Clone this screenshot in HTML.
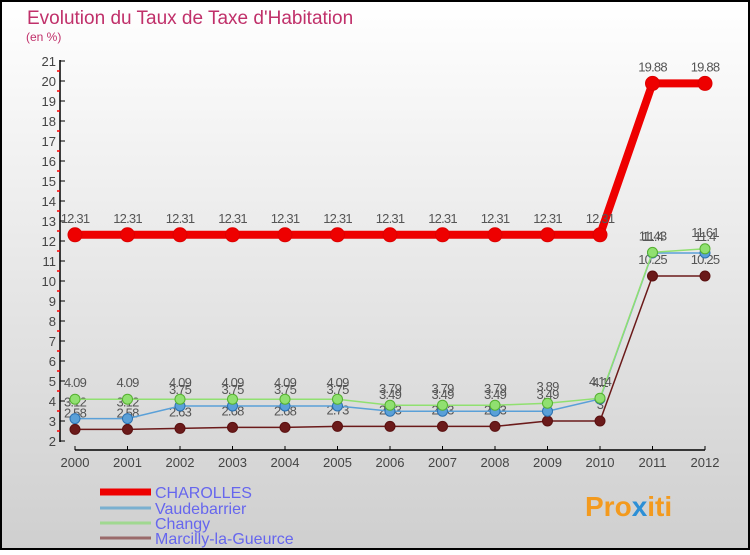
<!DOCTYPE html>
<html><head><meta charset="utf-8"><style>
body{margin:0;width:750px;height:550px;overflow:hidden;font-family:"Liberation Sans",sans-serif}
</style></head><body>
<svg id="c" width="750" height="550" xmlns="http://www.w3.org/2000/svg">
<defs><linearGradient id="bg" x1="0" y1="0" x2="0" y2="1"><stop offset="0" stop-color="#ffffff"/><stop offset="1" stop-color="#cfcfcf"/></linearGradient></defs>
<rect x="1" y="1" width="748" height="548" fill="url(#bg)" stroke="#000" stroke-width="2"/>
<text x="27" y="24" font-size="19" fill="#c0306a">Evolution du Taux de Taxe d'Habitation</text>
<text x="26" y="41" font-size="12" fill="#c0306a">(en %)</text>
<g id="axes"></g><g id="series"></g><g id="legend"></g>
<text x="585" y="516" font-size="28" font-weight="bold" fill="#f39a1e">Pro<tspan fill="#2c8fd6">x</tspan>iti</text>
</svg>
<script>
const years=["2000","2001","2002","2003","2004","2005","2006","2007","2008","2009","2010","2011","2012"];
const charolles=[12.31,12.31,12.31,12.31,12.31,12.31,12.31,12.31,12.31,12.31,12.31,19.88,19.88];
const vaudebarrier=[3.12,3.12,3.75,3.75,3.75,3.75,3.49,3.49,3.49,3.49,4.1,11.4,11.4];
const changy=[4.09,4.09,4.09,4.09,4.09,4.09,3.79,3.79,3.79,3.89,4.14,11.43,11.61];
const marcilly=[2.58,2.58,2.63,2.68,2.68,2.73,2.73,2.73,2.73,3,3,10.25,10.25];
const yTicks=[2,3,4,5,6,7,8,9,10,11,12,13,14,15,16,17,18,19,20,21];
const seriesNames=["CHAROLLES","Vaudebarrier","Changy","Marcilly-la-Gueurce"];
const NS="http://www.w3.org/2000/svg";
const X=i=>75+i*52.5, Y=v=>441-(v-2)*20;
function mk(t,a,p){const e=document.createElementNS(NS,t);for(const k in a)e.setAttribute(k,a[k]);p.appendChild(e);return e;}
const ax=document.getElementById('axes');
let l=mk('line',{x1:60,y1:60,x2:60,y2:442,stroke:'#000','stroke-width':1.5},ax);


l=mk('line',{x1:75,y1:450,x2:705,y2:450,stroke:'#000','stroke-width':1.5},ax);


yTicks.forEach(v=>{
 mk('line',{x1:60,y1:Y(v),x2:65,y2:Y(v),stroke:'#000'},ax);
 if(v<21)mk('line',{x1:57,y1:Y(v+0.5),x2:60,y2:Y(v+0.5),stroke:'#ff0000','stroke-width':1.5},ax);
 const t=mk('text',{x:56,y:Y(v)+5,'font-size':13,fill:'#444','text-anchor':'end'},ax);t.textContent=v;
 
 
});
years.forEach((y,i)=>{
 mk('line',{x1:X(i),y1:446,x2:X(i),y2:450,stroke:'#000'},ax);
 const t=mk('text',{x:X(i),y:467,'font-size':13,fill:'#444','text-anchor':'middle'},ax);t.textContent=y;
 
 
});
const sg=document.getElementById('series');
function draw(vals,color,w,r,name,dark){
 const g=mk('g',{},sg);
 
 
 mk('polyline',{points:vals.map((v,i)=>X(i)+','+Y(v)).join(' '),fill:'none',stroke:color,'stroke-width':w},g);
 vals.forEach((v,i)=>{
  const c=mk('circle',{cx:X(i),cy:Y(v),r:r,fill:color,stroke:dark,'stroke-width':1},g);
  
  
  const t=mk('text',{x:X(i),y:Y(v)-12,'font-size':13,fill:'#555','text-anchor':'middle','letter-spacing':'-0.8'},g);
  t.textContent=String(v);
  
  
 });
}
draw(marcilly,'#6b1a1a',1.5,5,'marcilly-series','#5a1010');
draw(vaudebarrier,'#5aa0d8',1.5,5,'vaudebarrier-series','#2a70b0');
draw(changy,'#90e070',1.5,5,'changy-series','#55b030');
draw(charolles,'#ee0000',8,7,'charolles-series','#dd0000');
const lg=document.getElementById('legend');
const lc=['#ee0000','#7ab0d0','#a0d890','#9a6a6a'],lw=[7,3,3,3],ly=[492,508,523,538];
seriesNames.forEach((n,i)=>{
 const g=mk('g',{},lg);
 
 
 mk('line',{x1:100,y1:ly[i],x2:151,y2:ly[i],stroke:lc[i],'stroke-width':lw[i]},g);
 const t=mk('text',{x:155,y:ly[i]+6,'font-size':16,fill:'#6666ee'},g);t.textContent=n;
});
</script>
</body></html>
